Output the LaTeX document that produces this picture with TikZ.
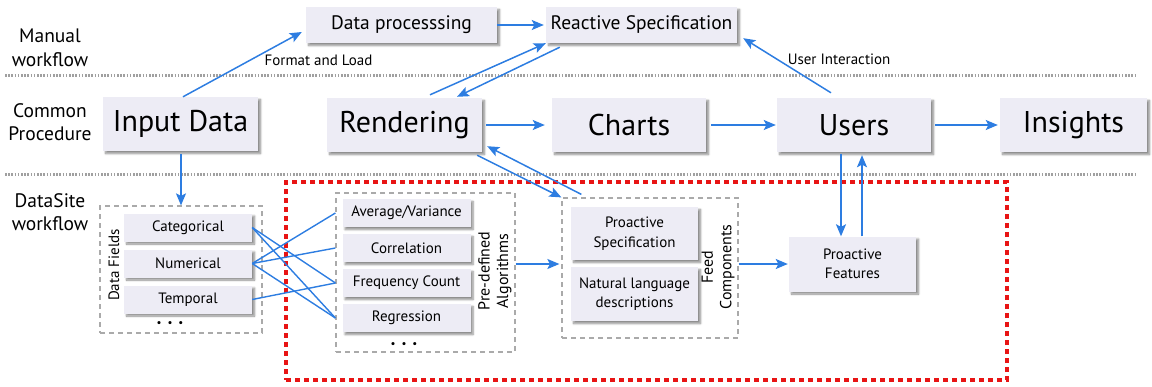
\documentclass[tikz,border=0pt]{standalone}
\usepackage{fontspec}
\setmainfont{PT Sans}
\usetikzlibrary{arrows.meta,shadows.blur,calc}
\definecolor{boxfill}{RGB}{237,236,245}
\definecolor{arrowblue}{RGB}{45,125,225}
\definecolor{sitered}{RGB}{232,20,20}
\definecolor{sepgray}{RGB}{160,160,160}
\definecolor{grpgray}{RGB}{170,170,170}
\tikzset{
  box/.style={fill=boxfill, inner sep=0pt, align=center, text=black,
    blur shadow={shadow xshift=2.5pt, shadow yshift=-2.5pt, shadow blur steps=6, shadow blur radius=2pt, shadow opacity=45}},
  bigbox/.style={box, minimum height=54pt, font=\fontsize{30}{34}\selectfont},
  midbox/.style={box, minimum width=191pt, minimum height=36pt, font=\fontsize{19.5}{22}\selectfont},
  smallbox/.style={box, minimum width=128pt, minimum height=28pt, font=\fontsize{15}{19.5}\selectfont},
  grpbox/.style={draw=grpgray, line width=1.2pt, dash pattern=on 5pt off 4pt, inner sep=0pt},
  redbox/.style={draw=sitered, line width=3.2pt, dash pattern=on 5pt off 4pt, inner sep=0pt},
  sep/.style={draw=sepgray, line width=3pt, dash pattern=on 1.6pt off 1.6pt},
  flow/.style={draw=arrowblue, line width=1.5pt, -{Stealth[length=12pt,width=10pt,inset=2.5pt]}},
  link/.style={draw=arrowblue, line width=1.4pt},
  lanelabel/.style={align=center, font=\fontsize{19.5}{23.5}\selectfont},
  edgelabel/.style={font=\fontsize{15}{17}\selectfont},
  grplabel/.style={rotate=90, align=center, font=\fontsize{16}{18.5}\selectfont},
  dots/.style={font=\fontsize{11}{12}\selectfont},
}
\begin{document}
\begin{tikzpicture}[x=1pt,y=-1pt]
\useasboundingbox (0,0) rectangle (1152,386);

% lane separators
\draw[sep] (5,75) -- (1137,75);
\draw[sep] (5,174) -- (1137,174);

% lane labels
\node[lanelabel] (lmanual) at (50,48) {Manual\\workflow};
\node[lanelabel] (lcommon) at (50,122) {Common\\Procedure};
\node[lanelabel] (lsite) at (50,212) {DataSite\\workflow};

% DataSite region
\node[redbox, minimum width=721pt, minimum height=198pt] (site) at (646.5,281) {};

% top row
\node[midbox] (dp) at (401.5,25) {Data processsing};
\node[midbox] (rs) at (641.5,25) {Reactive Specification};

% middle row
\node[bigbox, minimum width=155pt] (input) at (180.5,124) {Input Data};
\node[bigbox, minimum width=155pt] (render) at (404.5,125) {Rendering};
\node[bigbox, minimum width=154pt] (charts) at (629,125) {Charts};
\node[bigbox, minimum width=154pt] (users) at (854,125) {Users};
\node[bigbox, minimum width=147pt] (insights) at (1073.5,125) {Insights};

% data fields group
\node[grpbox, minimum width=162pt, minimum height=127pt] (df) at (181,269.5) {};
\node[smallbox] (cat) at (188,227.5) {Categorical};
\node[smallbox] (num) at (188,263.5) {Numerical};
\node[smallbox] (tmp) at (188,299.5) {Temporal};
\node[dots] (dfdots) at (170,324) {•\hspace{6pt}•\hspace{6pt}•};
\node[font=\fontsize{15}{18}\selectfont, rotate=90] (dflabel) at (114,265) {Data Fields};

% algorithms group
\node[grpbox, minimum width=179pt, minimum height=159pt] (algos) at (425.5,272.5) {};
\node[smallbox] (avg) at (406.5,213) {Average/Variance};
\node[smallbox] (cor) at (406.5,248) {Correlation};
\node[smallbox] (frq) at (406.5,283) {Frequency Count};
\node[smallbox] (reg) at (406.5,318) {Regression};
\node[dots] (algdots) at (404,345) {•\hspace{6pt}•\hspace{6pt}•};
\node[grplabel] (alglabel) at (495,271) {Pre-defined\\Algorithms};

% feed components group
\node[grpbox, minimum width=176pt, minimum height=140pt] (feed) at (650,268) {};
\node[smallbox, minimum width=127pt, minimum height=53pt] (pspec) at (634.5,233.5) {Proactive\\Specification};
\node[smallbox, minimum width=127pt, minimum height=54pt] (nld) at (634.5,294) {Natural language\\descriptions};
\node[grplabel] (feedlabel) at (718,267) {Feed\\Components};

% proactive features
\node[smallbox, minimum width=127pt, minimum height=55pt] (pf) at (852.5,264) {Proactive\\Features};

% manual workflow arrows
\draw[flow] ([xshift=2.5pt]input.north) -- ([xshift=-4pt,yshift=-7pt]dp.west)
  node[edgelabel, pos=0.72, below right, xshift=-8pt, yshift=-1pt] (fl) {Format and Load};
\draw[flow] (dp.east) -- ([xshift=-2pt]rs.west);
\draw[flow] ([xshift=25.5pt,yshift=3pt]render.north) -- (rs.south west);
\draw[flow] ([xshift=14pt,yshift=-4pt]rs.south west) -- ([xshift=52.5pt,yshift=1pt]render.north);
\draw[flow] ([xshift=-23pt,yshift=5pt]users.north) -- ([xshift=6pt,yshift=5pt]rs.south east)
  node[edgelabel, pos=0.3, above right, xshift=-21pt, yshift=8pt] (ui) {User Interaction};

% common procedure arrows
\draw[flow] ([xshift=4pt]render.east) -- ([xshift=-7pt]charts.west);
\draw[flow] ([xshift=5pt]charts.east) -- ([xshift=-1pt]users.west);
\draw[flow] ([xshift=4pt]users.east) -- ([xshift=-2pt]insights.west);

% to DataSite
\draw[flow] ([xshift=0.5pt,yshift=-3pt]input.south) -- (df.north);
\draw[flow] ([xshift=-5pt,yshift=-3pt]render.south east) -- (feed.north west);
\draw[flow] ([xshift=20pt,yshift=3pt]feed.north west) -- ([xshift=5pt,yshift=6pt]render.south east);
\draw[flow] ([xshift=-13pt,yshift=-2pt]users.south) -- ([xshift=-11.5pt]pf.north);
\draw[flow] ([xshift=9.5pt]pf.north) -- ([xshift=8pt,yshift=-3pt]users.south);

% field to algorithm links
\draw[link] (cat.east) -- (frq.west -| algos.west);
\draw[link] (cat.east) -- (reg.west -| algos.west);
\draw[link] (num.east) -- (avg.west -| algos.west);
\draw[link] (num.east) -- (cor.west -| algos.west);
\draw[link] (num.east) -- (reg.west -| algos.west);
\draw[link] (tmp.east) -- (frq.west -| algos.west);

% algorithms -> feed -> proactive features
\draw[flow] (algos.east |- pf.west) -- ([xshift=-2pt]feed.west |- pf.west);
\draw[flow] (feed.east |- pf.west) -- ([xshift=-1pt]pf.west);
\end{tikzpicture}
\end{document}
